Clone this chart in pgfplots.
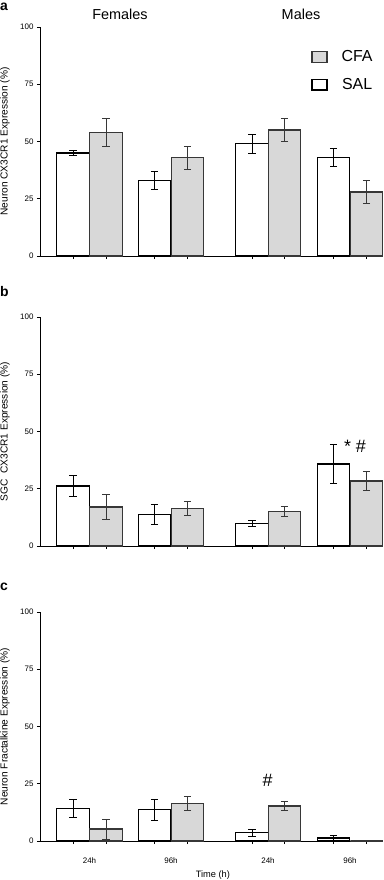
\documentclass[border=0pt]{standalone}
\usepackage{fontspec}
\setmainfont{Liberation Sans}
\usepackage{pgfplots}
\usepackage{pgfplotstable}
\pgfplotsset{compat=1.18}
\definecolor{barfill}{RGB}{216,216,216}
\definecolor{edgegray}{RGB}{55,55,55}

\pgfplotstableread{
x y e
73 45 1
154.5 33 4
252 49 4
333.5 43 4
}\salA
\pgfplotstableread{
x y e
106 54 6
187.5 43 5
284.5 55 5
366.5 28 5
}\cfaA
\pgfplotstableread{
x y e
73 26.2 4.6
154.5 13.8 4.4
252 9.9 1.3
333.5 35.9 8.6
}\salB
\pgfplotstableread{
x y e
106 17.1 5.3
187.5 16.3 3
284.5 15.1 2
366.5 28.4 4
}\cfaB
\pgfplotstableread{
x y e
73 14.1 4
154.5 13.7 4.5
252 3.6 1.4
333.5 1.3 1.2
}\salC
\pgfplotstableread{
x y e
106 5.2 4.3
187.5 16.3 3
284.5 15.3 2
366.5 0 0
}\cfaC

\pgfplotsset{
  myaxis/.style={
    scale only axis, width=343bp, height=229bp,
    xmin=40, xmax=383, ymin=0, ymax=100,
    axis x line=bottom, axis y line=left,
    axis line style={-, line width=0.8pt},
    ytick={0,25,50,75,100},
    yticklabel style={font=\fontsize{8}{9}\selectfont},
    xtick={89.5,171,268,350},
    major x tick style={draw=none},
    minor xtick={73,106,154.5,187.5,252,284.5,333.5,366.5},
    tick align=outside, major tick length=3bp, minor tick length=3bp,
    tick style={line width=0.8pt, black},
    /pgf/number format/assume math mode=true,
    clip=false,
    ylabel style={at={(axis description cs:-0.102,0.5)}, anchor=center, font=\fontsize{10.2}{12}\selectfont},
  },
  salbar/.style={ybar, bar width=32.5, bar shift=0pt, fill=white, draw=black, line width=1.4bp,
    error bars/.cd, y dir=both, y explicit,
    error bar style={line width=0.8bp, black},
    error mark options={rotate=90, mark size=3.7bp, line width=0.8bp, black}},
  cfabar/.style={ybar, bar width=32.5, bar shift=0pt, fill=barfill, draw=edgegray, line width=1.4bp,
    error bars/.cd, y dir=both, y explicit,
    error bar style={line width=0.8bp, edgegray},
    error mark options={rotate=90, mark size=3.7bp, line width=0.8bp, edgegray}},
}

\begin{document}
\begin{tikzpicture}[x=1bp,y=1bp]
\path[use as bounding box] (0,0) rectangle (383,-880);

% panel a
\begin{axis}[myaxis, at={(40bp,-256bp)}, anchor=south west,
  xticklabels={},
  ylabel={Neuron CX3CR1 Expression (\%)},
  reverse legend,
  legend style={at={(axis cs:308,91.5)}, anchor=north west, draw=none, fill=none,
    font=\fontsize{16}{18}\selectfont, row sep=11bp,
    /tikz/every odd column/.append style={column sep=12bp}},
  legend image code/.code={\draw[#1, line width=1.4bp] (0bp,-5.3bp) rectangle (15bp,5.3bp);},
]
\addplot[salbar] table[x=x, y=y, y error=e] {\salA};
\addlegendentry{SAL}
\addplot[cfabar] table[x=x, y=y, y error=e] {\cfaA};
\addlegendentry{CFA}
\node[font=\fontsize{14.5}{16}\selectfont] at (axis cs:120,105.7) {Females};
\node[font=\fontsize{14.5}{16}\selectfont] at (axis cs:301,105.7) {Males};
\end{axis}

% panel b
\begin{axis}[myaxis, at={(40bp,-546bp)}, anchor=south west,
  xticklabels={},
  ylabel={SGC\ \ CX3CR1 Expression (\%)},
]
\addplot[salbar] table[x=x, y=y, y error=e] {\salB};
\addplot[cfabar] table[x=x, y=y, y error=e] {\cfaB};
\node[font=\fontsize{18}{20}\selectfont, anchor=base] at (axis cs:355,41) {*\ \#};
\end{axis}

% panel c
\begin{axis}[myaxis, at={(40bp,-841bp)}, anchor=south west,
  xticklabels={24h,96h,24h,96h},
  xticklabel style={font=\fontsize{8}{9}\selectfont, yshift=-10bp},
  ylabel={Neuron Fractalkine Expression (\%)},
  xlabel={Time (h)},
  xlabel style={at={(axis description cs:0.504,0)}, anchor=base, yshift=-36bp, font=\fontsize{9.3}{11}\selectfont},
]
\addplot[salbar] table[x=x, y=y, y error=e] {\salC};
\addplot[cfabar] table[x=x, y=y, y error=e] {\cfaC};
\node[font=\fontsize{18}{20}\selectfont, anchor=base] at (axis cs:267.5,23.6) {\#};
\end{axis}

\node[anchor=base west, inner sep=0pt, font=\fontsize{14}{16}\selectfont\bfseries] at (0,-10) {a};
\node[anchor=base west, inner sep=0pt, font=\fontsize{14}{16}\selectfont\bfseries] at (0,-296) {b};
\node[anchor=base west, inner sep=0pt, font=\fontsize{14}{16}\selectfont\bfseries] at (0,-590) {c};
\end{tikzpicture}
\end{document}
